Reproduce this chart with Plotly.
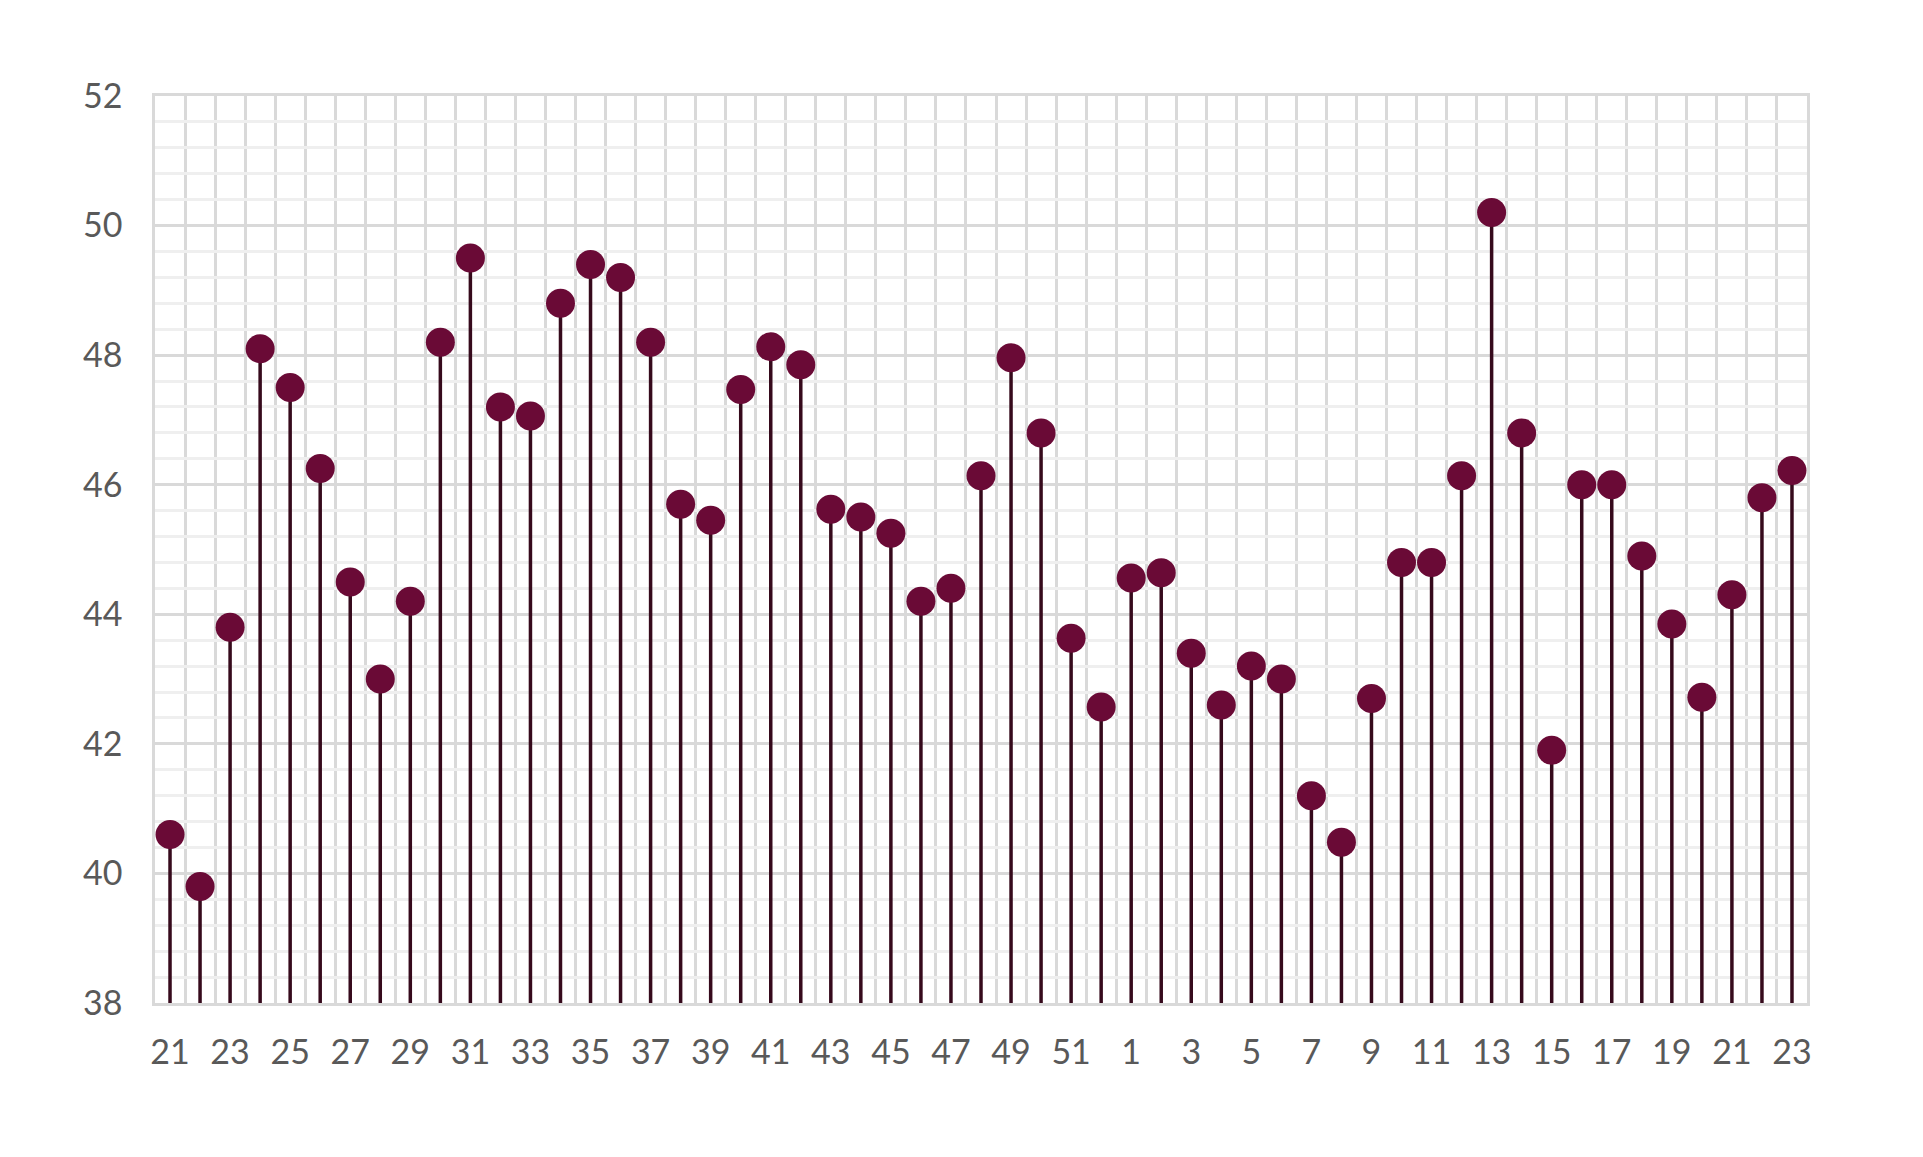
import plotly.graph_objects as go

# week numbers along the x axis (year wraps after 52)
weeks = list(range(21, 53)) + list(range(1, 24))

values = [40.6, 39.8, 43.8, 48.1, 47.5, 46.25, 44.5, 43.0, 44.2, 48.2,
          49.5, 47.2, 47.06, 48.8, 49.4, 49.2, 48.2, 45.7, 45.45, 47.47,
          48.13, 47.85, 45.62, 45.5, 45.25, 44.2, 44.4, 46.14, 47.96, 46.8,
          43.63, 42.57, 44.56, 44.64, 43.4, 42.6, 43.2, 43.0, 41.2, 40.48,
          42.7, 44.8, 44.8, 46.14, 50.2, 46.8, 41.9, 46.0, 46.0, 44.9,
          43.85, 42.72, 44.3, 45.8, 46.22]

y_base = 38
y_top = 52

x = list(range(len(weeks)))
stem_len = [v - y_base for v in values]

fig = go.Figure()

fig.add_trace(
    go.Scatter(x=x, y=values, mode='markers',
               marker=dict(size=29, color='#6a0a36'),
               error_y=dict(type='data', symmetric=False,
                            array=[0] * len(values), arrayminus=stem_len,
                            color='#360a1c', thickness=3.5, width=0),
               showlegend=False, hoverinfo='skip')
)

tick_font = dict(family='Lato, Open Sans, sans-serif', size=34, color='#595959')
grid_col = '#d9d9d9'

fig.update_xaxes(range=[-0.5, len(weeks) - 0.5],
                 tickmode='array', tickvals=x[::2], ticktext=[str(w) for w in weeks[::2]],
                 tickfont=tick_font, ticks='', ticklabelstandoff=17,
                 showgrid=False, zeroline=False,
                 showline=True, linecolor=grid_col, linewidth=2.5, mirror=True,
                 minor=dict(tickmode='linear', tick0=-0.5, dtick=1,
                            showgrid=True, gridcolor=grid_col, gridwidth=2.5))

fig.update_yaxes(range=[y_base, y_top], dtick=2, tick0=y_base,
                 tickfont=tick_font, ticks='', ticklabelstandoff=23,
                 showgrid=True, gridcolor=grid_col, gridwidth=2.5,
                 zeroline=False,
                 showline=True, linecolor=grid_col, linewidth=2.5, mirror=True,
                 minor=dict(dtick=0.4, tick0=y_base, showgrid=True,
                            gridcolor='#efefef', gridwidth=2.5))

fig.update_layout(width=1923, height=1157,
                  margin=dict(l=147, r=124, t=88, b=162),
                  plot_bgcolor='white', paper_bgcolor='white')

fig.write_html("out.html")
